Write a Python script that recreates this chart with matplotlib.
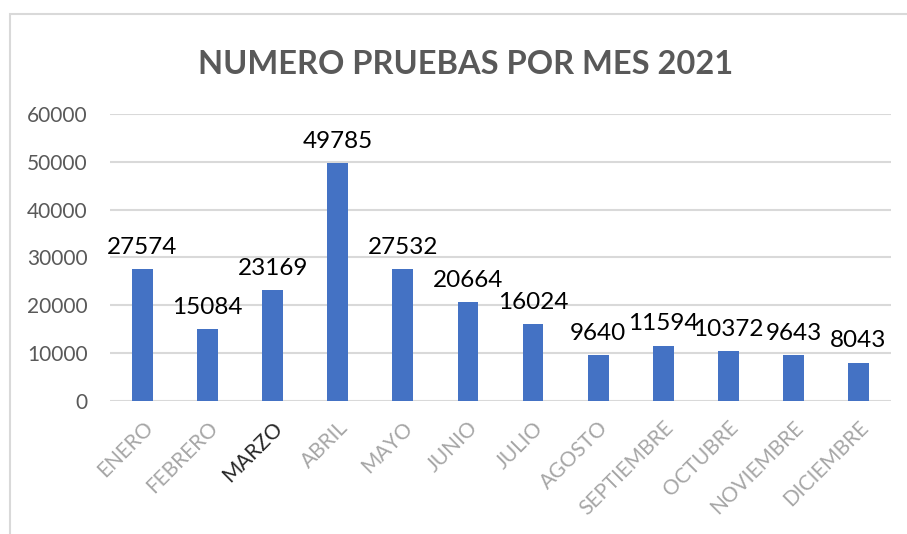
import numpy as np
import matplotlib.pyplot as plt
from matplotlib.patches import Rectangle

meses = ['ENERO', 'FEBRERO', 'MARZO', 'ABRIL', 'MAYO', 'JUNIO', 'JULIO',
         'AGOSTO', 'SEPTIEMBRE', 'OCTUBRE', 'NOVIEMBRE', 'DICIEMBRE']
pruebas = [27574, 15084, 23169, 49785, 27532, 20664, 16024,
           9640, 11594, 10372, 9643, 8043]
yticks = [0, 10000, 20000, 30000, 40000, 50000, 60000]

plt.rcParams['font.family'] = ['Lato', 'DejaVu Sans']

fig = plt.figure(figsize=(9.07, 5.34), dpi=100)
ax = fig.add_axes([0.1213, 0.2491, 0.8611, 0.5374])

# chart border (cropped on the right and bottom)
fig.patches.append(Rectangle((10 / 907, -0.1), 1.2, 1 - 14 / 534 + 0.1,
                             transform=fig.transFigure, fill=False,
                             edgecolor='#D9D9D9', linewidth=1.5))

x = np.arange(len(meses))
ax.bar(x, pruebas, width=0.32, color='#4472C4', zorder=3)

for xi, v in zip(x, pruebas):
    ax.annotate(str(v), (xi, v), xytext=(0, 8), textcoords='offset points',
                ha='center', va='bottom', fontsize=17.5, color='#000000')

ax.set_xlim(-0.5, len(meses) - 0.5)
ax.set_ylim(0, 60000)
ax.set_yticks(yticks)
ax.set_yticklabels([str(t) for t in yticks], fontsize=15, color='#595959')
ax.grid(axis='y', color='#D9D9D9', linewidth=1.5, zorder=0)
ax.tick_params(axis='both', length=0)
ax.tick_params(axis='y', pad=16)
for s in ax.spines.values():
    s.set_visible(False)

ax.set_xticks(x)
ax.set_xticklabels(meses, rotation=45, ha='right', rotation_mode='anchor',
                   fontsize=15, color='#A6A6A6')
ax.get_xticklabels()[2].set_color('#262626')
ax.tick_params(axis='x', pad=12)

fig.text(0.513, 0.880, 'NUMERO PRUEBAS POR MES 2021', ha='center', va='center',
         fontsize=23.5, fontweight='bold', color='#595959')

fig.savefig('out.png', dpi=100)
